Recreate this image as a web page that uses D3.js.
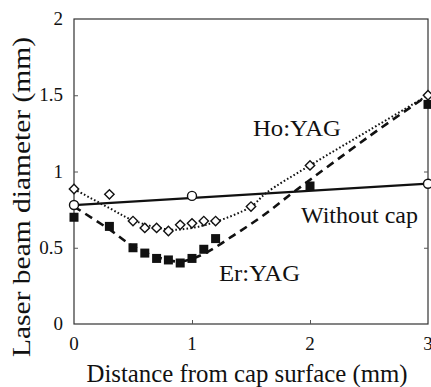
<!DOCTYPE html>
<html>
<head>
<meta charset="utf-8">
<script src="https://cdn.jsdelivr.net/npm/d3@7"></script>
<style>
  body { margin: 0; background: #fff; }
  text { font-family: "Times New Roman", "Liberation Serif", Times, serif; fill: #111; }
</style>
</head>
<body>
<div id="chart"></div>
<script>
// measured points
var noCapX = [0, 1, 3];
var noCapY = [0.78, 0.84, 0.92];
var hoX = [0, 0.3, 0.5, 0.6, 0.7, 0.8, 0.9, 1.0, 1.1, 1.2, 1.5, 2, 3];
var hoY = [0.885, 0.85, 0.675, 0.63, 0.63, 0.61, 0.65, 0.66, 0.675, 0.675, 0.77, 1.04, 1.5];
var erX = [0, 0.3, 0.5, 0.6, 0.7, 0.8, 0.9, 1.0, 1.1, 1.2, 2, 3];
var erY = [0.7, 0.64, 0.5, 0.465, 0.43, 0.42, 0.4, 0.43, 0.49, 0.56, 0.905, 1.44];

// fitted curves
var noCapFitX = [0, 3];
var noCapFitY = [0.78, 0.92];
var hoFitX = [0, 0.3, 0.5, 0.8, 1.0, 1.2, 1.5, 1.63, 2, 2.5, 3];
var hoFitY = [0.885, 0.76, 0.68, 0.62, 0.63, 0.67, 0.77, 0.86, 1.04, 1.27, 1.5];
var erFitX = [0, 0.3, 0.5, 0.7, 0.9, 1.1, 1.35, 1.6, 1.87, 2.5, 3];
var erFitY = [0.77, 0.62, 0.51, 0.44, 0.41, 0.46, 0.58, 0.71, 0.87, 1.23, 1.5];

var xTicks = [0, 1, 2, 3];
var yTicks = [0, 0.5, 1, 1.5, 2];

var zip = function(a, b) { return a.map(function(d, i) { return [d, b[i]]; }); };

var W = 431, H = 387;
var plotL = 74, plotR = 428, plotT = 19, plotB = 324;

var svg = d3.select("#chart").append("svg")
    .attr("width", W)
    .attr("height", H);

var x = d3.scaleLinear().domain([0, 3]).range([plotL, plotR]);
var y = d3.scaleLinear().domain([0, 2]).range([plotB, plotT]);

// frame
svg.append("rect")
    .attr("x", plotL).attr("y", plotT)
    .attr("width", plotR - plotL).attr("height", plotB - plotT)
    .style("fill", "none").style("stroke", "#333").style("stroke-width", 1.2);

// axes with inward ticks
svg.append("g")
    .attr("transform", "translate(0," + plotB + ")")
    .call(d3.axisBottom(x).tickValues([1, 2]).tickSize(-4).tickFormat(""))
    .call(function(g) { g.select(".domain").remove(); });
svg.append("g")
    .attr("transform", "translate(" + plotL + ",0)")
    .call(d3.axisLeft(y).tickValues([0.5, 1, 1.5]).tickSize(-4).tickFormat(""))
    .call(function(g) { g.select(".domain").remove(); });
svg.append("g")
    .attr("transform", "translate(" + plotR + ",0)")
    .call(d3.axisRight(y).tickValues([0.5, 1, 1.5]).tickSize(-4).tickFormat(""))
    .call(function(g) { g.select(".domain").remove(); });
svg.selectAll(".tick line").style("stroke", "#555");

// tick labels
svg.selectAll("text.xlab").data(xTicks).enter().append("text")
    .attr("class", "xlab")
    .attr("x", function(d) { return x(d); })
    .attr("y", 350)
    .attr("text-anchor", "middle")
    .style("font-size", "19px")
    .text(function(d) { return d; });

svg.selectAll("text.ylab").data(yTicks).enter().append("text")
    .attr("class", "ylab")
    .attr("x", 63)
    .attr("y", function(d) { return y(d) + 6; })
    .attr("text-anchor", "end")
    .style("font-size", "19px")
    .text(function(d) { return d; });

// axis titles
svg.append("text")
    .attr("x", 247).attr("y", 382)
    .attr("text-anchor", "middle")
    .attr("textLength", 321).attr("lengthAdjust", "spacingAndGlyphs")
    .style("font-size", "25px")
    .text("Distance from cap surface (mm)");

svg.append("text")
    .attr("transform", "translate(30,197) rotate(-90)")
    .attr("text-anchor", "middle")
    .attr("textLength", 320).attr("lengthAdjust", "spacingAndGlyphs")
    .style("font-size", "26px")
    .text("Laser beam diameter (mm)");

// curves
var line = d3.line()
    .x(function(d) { return x(d[0]); })
    .y(function(d) { return y(d[1]); });
var smooth = d3.line()
    .x(function(d) { return x(d[0]); })
    .y(function(d) { return y(d[1]); })
    .curve(d3.curveCatmullRom.alpha(0.5));

svg.append("path")
    .datum(zip(noCapFitX, noCapFitY))
    .attr("d", line)
    .style("fill", "none").style("stroke", "#111").style("stroke-width", 2.2);

svg.append("path")
    .datum(zip(hoFitX, hoFitY))
    .attr("d", smooth)
    .style("fill", "none").style("stroke", "#111").style("stroke-width", 2)
    .style("stroke-dasharray", "1.6,2.2");

svg.append("path")
    .datum(zip(erFitX, erFitY))
    .attr("d", smooth)
    .style("fill", "none").style("stroke", "#111").style("stroke-width", 2.6)
    .style("stroke-dasharray", "8,5.5");

// markers
svg.selectAll("rect.er").data(zip(erX, erY)).enter().append("rect")
    .attr("class", "er")
    .attr("x", function(d) { return x(d[0]) - 4.5; })
    .attr("y", function(d) { return y(d[1]) - 4.5; })
    .attr("width", 9).attr("height", 9)
    .style("fill", "#111");

var diamond = d3.symbol().type(d3.symbolSquare).size(44);
svg.selectAll("path.ho").data(zip(hoX, hoY)).enter().append("path")
    .attr("class", "ho")
    .attr("d", diamond)
    .attr("transform", function(d) { return "translate(" + x(d[0]) + "," + y(d[1]) + ") rotate(45)"; })
    .style("fill", "#fff").style("stroke", "#111").style("stroke-width", 1.4);

svg.selectAll("circle.nocap").data(zip(noCapX, noCapY)).enter().append("circle")
    .attr("class", "nocap")
    .attr("cx", function(d) { return x(d[0]); })
    .attr("cy", function(d) { return y(d[1]); })
    .attr("r", 4.5)
    .style("fill", "#fff").style("stroke", "#111").style("stroke-width", 1.4);

// series labels
svg.append("text").attr("x", 253).attr("y", 136)
    .attr("textLength", 88).attr("lengthAdjust", "spacingAndGlyphs")
    .style("font-size", "24px").text("Ho:YAG");
svg.append("text").attr("x", 301).attr("y", 223)
    .attr("textLength", 117).attr("lengthAdjust", "spacingAndGlyphs")
    .style("font-size", "24px").text("Without cap");
svg.append("text").attr("x", 219).attr("y", 281)
    .attr("textLength", 81).attr("lengthAdjust", "spacingAndGlyphs")
    .style("font-size", "24px").text("Er:YAG");
</script>
</body>
</html>
